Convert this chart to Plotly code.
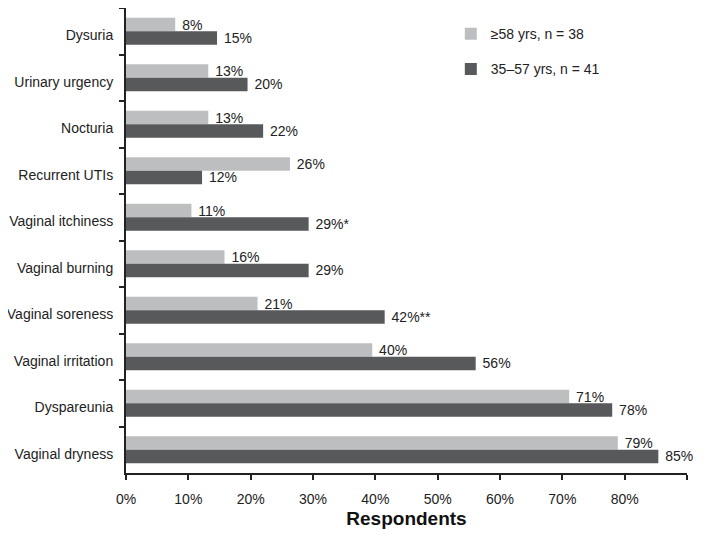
import plotly.graph_objects as go

categories = ["Dysuria", "Urinary urgency", "Nocturia", "Recurrent UTIs", "Vaginal itchiness",
              "Vaginal burning", "Vaginal soreness", "Vaginal irritation", "Dyspareunia", "Vaginal dryness"]
older_values = [7.9, 13.2, 13.2, 26.3, 10.5, 15.8, 21.1, 39.5, 71.1, 78.9]
younger_values = [14.6, 19.5, 22.0, 12.2, 29.3, 29.3, 41.5, 56.1, 78.0, 85.4]
older_labels = ["8%", "13%", "13%", "26%", "11%", "16%", "21%", "40%", "71%", "79%"]
younger_labels = ["15%", "20%", "22%", "12%", "29%*", "29%", "42%**", "56%", "78%", "85%"]
series_names = ["≥58 yrs, n = 38", "35–57 yrs, n = 41"]
x_ticks = [0, 10, 20, 30, 40, 50, 60, 70, 80, 90]
x_tick_labels = [f"{v}%" for v in x_ticks]

LIGHT = "#bdbec0"
DARK = "#58595b"
FONT = "Liberation Sans, Arial, sans-serif"

fig = go.Figure()
fig.add_trace(go.Bar(
    y=categories, x=older_values, orientation="h", name=series_names[0],
    marker=dict(color=LIGHT, line=dict(width=0)),
    text=["\u00a0" + t for t in older_labels], textposition="outside",
    textfont=dict(size=14, color="#222222", family=FONT),
    constraintext="none", cliponaxis=False, legendgroup="a",
))
fig.add_trace(go.Bar(
    y=categories, x=younger_values, orientation="h", name=series_names[1],
    marker=dict(color=DARK, line=dict(width=0)),
    text=["\u00a0" + t for t in younger_labels], textposition="outside",
    textfont=dict(size=14, color="#222222", family=FONT),
    constraintext="none", cliponaxis=False, legendgroup="b",
))

# page has an 8px body margin; the figure is sized so it fits the 709x538 window
fig.update_layout(
    width=693, height=522,
    margin=dict(l=118, r=14, t=0, b=57, autoexpand=False),
    barmode="group", bargap=0.42, bargroupgap=0,
    plot_bgcolor="white", paper_bgcolor="white",
    font=dict(family=FONT, size=14, color="#222222"),
    showlegend=True,
    legend=dict(x=0.579, y=0.978, xanchor="left", yanchor="top",
                traceorder="grouped", tracegroupgap=14,
                font=dict(size=14, color="#222222"), bgcolor="rgba(0,0,0,0)"),
    xaxis=dict(range=[0, 90], tickvals=x_ticks, ticktext=x_tick_labels, automargin=False,
               showgrid=False, zeroline=False, showline=True, linecolor="#222222", linewidth=2,
               ticks="outside", ticklen=5, tickwidth=1.5, tickcolor="#222222",
               tickfont=dict(size=14), ticklabelstandoff=7,
               title=dict(text="<b>Respondents</b>", font=dict(size=19, color="#111111"), standoff=6)),
    yaxis=dict(autorange="reversed", showgrid=False, zeroline=False, showline=True, automargin=False,
               linecolor="#222222", linewidth=2, ticks="outside", ticklen=5, tickwidth=1.5,
               tickcolor="#222222", tickson="boundaries", tickfont=dict(size=14),
               ticklabelstandoff=8, ticklabelshift=-4),
)

fig.write_html("out.html")
